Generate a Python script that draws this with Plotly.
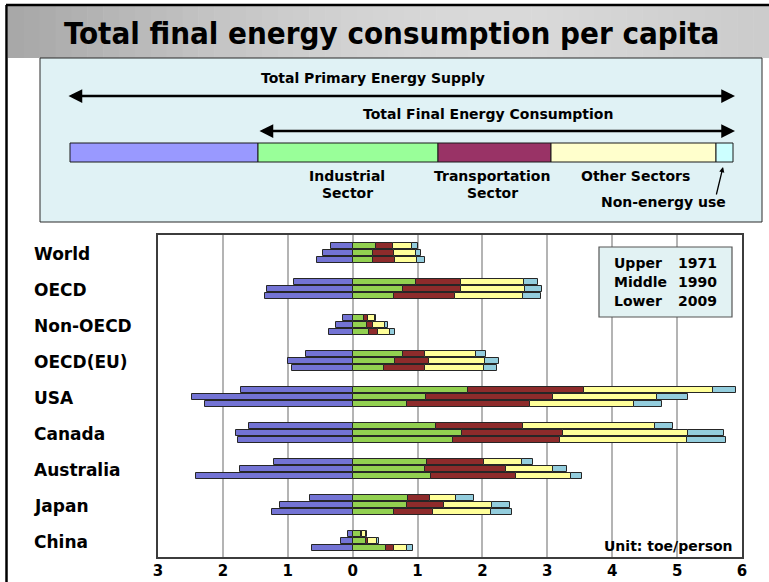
import plotly.graph_objects as go
import math

# ---------------- data (toe/person) ----------------
countries = ["World", "OECD", "Non-OECD", "OECD(EU)", "USA", "Canada", "Australia", "Japan", "China"]
years = ["1971", "1990", "2009"]

# losses (TPES - TFC), drawn to the left of zero
loss_1971 = [0.33, 0.90, 0.15, 0.72, 1.72, 1.60, 1.21, 0.65, 0.07]
loss_1990 = [0.46, 1.32, 0.25, 0.99, 2.48, 1.80, 1.73, 1.12, 0.18]
loss_2009 = [0.55, 1.35, 0.37, 0.94, 2.28, 1.77, 2.42, 1.24, 0.62]

industry_1971 = [0.36, 0.98, 0.17, 0.77, 1.77, 1.28, 1.14, 0.86, 0.13]
industry_1990 = [0.32, 0.77, 0.22, 0.65, 1.13, 1.69, 1.12, 0.83, 0.20]
industry_2009 = [0.31, 0.63, 0.25, 0.49, 0.84, 1.54, 1.21, 0.63, 0.51]

transport_1971 = [0.26, 0.69, 0.07, 0.34, 1.80, 1.34, 0.88, 0.33, 0.02]
transport_1990 = [0.31, 0.90, 0.10, 0.53, 1.96, 1.55, 1.24, 0.58, 0.04]
transport_2009 = [0.35, 0.95, 0.14, 0.62, 1.89, 1.65, 1.30, 0.61, 0.12]

other_1971 = [0.30, 0.97, 0.10, 0.79, 1.98, 2.04, 0.59, 0.40, 0.06]
other_1990 = [0.34, 0.98, 0.18, 0.86, 1.60, 1.93, 0.72, 0.73, 0.13]
other_2009 = [0.33, 1.05, 0.18, 0.92, 1.61, 1.96, 0.85, 0.89, 0.20]

nonenergy_1971 = [0.08, 0.21, 0.02, 0.15, 0.36, 0.27, 0.17, 0.28, 0.01]
nonenergy_1990 = [0.09, 0.27, 0.05, 0.21, 0.48, 0.55, 0.23, 0.28, 0.03]
nonenergy_2009 = [0.12, 0.28, 0.08, 0.20, 0.42, 0.61, 0.17, 0.32, 0.10]

tick_vals = [-3, -2, -1, 0, 1, 2, 3, 4, 5, 6]
tick_text = ["3", "2", "1", "0", "1", "2", "3", "4", "5", "6"]

# ---------------- geometry helpers ----------------
L, R, T, B = 158, 742, 235, 557
W, H = R - L, B - T
def px(x):
    return (x - L) / W
def py(y):
    return (B - y) / H

year_offset = {"1971": 0.2, "1990": 0.0, "2009": -0.2}

def build(lists):
    ys, xs = [], []
    for yr, vals in zip(years, lists):
        for i, v in enumerate(vals):
            ys.append(-i + year_offset[yr])
            xs.append(v)
    return ys, xs

series = [
    ("Loss", [[-v for v in loss_1971], [-v for v in loss_1990], [-v for v in loss_2009]], "#7373d4"),
    ("Industrial Sector", [industry_1971, industry_1990, industry_2009], "#92d050"),
    ("Transportation Sector", [transport_1971, transport_1990, transport_2009], "#8e2b2b"),
    ("Other Sectors", [other_1971, other_1990, other_2009], "#ffff99"),
    ("Non-energy use", [nonenergy_1971, nonenergy_1990, nonenergy_2009], "#93cddd"),
]

fig = go.Figure()
for name, lists, color in series:
    ys, xs = build(lists)
    fig.add_trace(go.Bar(
        x=xs, y=ys, orientation="h", name=name, width=0.165,
        marker=dict(color=color, line=dict(color="#262626", width=1)),
        showlegend=False,
    ))

FONT = "DejaVu Sans, Verdana, sans-serif"
TITLE_FONT = "DejaVu Sans Condensed, Liberation Sans Narrow, DejaVu Sans, sans-serif"

fig.update_layout(
    width=769, height=582,
    margin=dict(l=L, r=769 - R, t=T, b=582 - B, autoexpand=False),
    paper_bgcolor="white", plot_bgcolor="white",
    barmode="relative", bargap=0,
    font=dict(family=FONT, color="black"),
    xaxis=dict(range=[-3, 6], tickvals=tick_vals, ticktext=tick_text,
               showgrid=True, gridcolor="#b4b4b4", gridwidth=1.5,
               zeroline=False, showline=True, mirror=True, linecolor="#3c3c3c", linewidth=1.5,
               ticks="", ticklabelstandoff=-1,
               tickfont=dict(family=FONT, size=15, color="black", weight="bold")),
    yaxis=dict(range=[-8.44, 0.5], showticklabels=False, showgrid=False, zeroline=False,
               showline=True, mirror=True, linecolor="#3c3c3c", linewidth=1.5, fixedrange=True),
)

shapes = []
annotations = []

# header gradient band
n = 48
x0 = 8
for k in range(n):
    xa = x0 + (769 - x0) * k / n
    xb = x0 + (769 - x0) * (k + 1) / n + 0.6
    t = k / (n - 1)
    g = int(168 + 50 * math.sin(min(t / 0.7, 1.0) * math.pi / 2) - 14 * max(0, t - 0.7) / 0.3)
    col = f"rgb({g},{g},{g})"
    shapes.append(dict(type="rect", xref="paper", yref="paper", x0=px(xa), x1=px(xb),
                       y0=py(58), y1=py(6), fillcolor=col, line=dict(width=0), layer="below"))
# outer black border lines
shapes.append(dict(type="line", xref="paper", yref="paper", x0=px(6), x1=px(769), y0=py(5), y1=py(5),
                   line=dict(color="black", width=2.5)))
shapes.append(dict(type="line", xref="paper", yref="paper", x0=px(6.5), x1=px(6.5), y0=py(5), y1=py(582),
                   line=dict(color="black", width=2.5)))

# title
annotations.append(dict(xref="paper", yref="paper", x=px(391), y=py(33), text="<b>Total final energy consumption per capita</b>",
                        showarrow=False, xanchor="center", yanchor="middle",
                        font=dict(family=TITLE_FONT, size=31, color="black")))

# schematic box
shapes.append(dict(type="rect", xref="paper", yref="paper", x0=px(40), x1=px(762), y0=py(222), y1=py(58),
                   fillcolor="#e0f2f5", line=dict(color="#2a2a2a", width=1)))

# schematic bar
seg = [(70, 258, "#9999ff"), (258, 438, "#99ff99"), (438, 551, "#993366"), (551, 716, "#ffffcc"), (716, 733, "#ccffff")]
for a, b, c in seg:
    shapes.append(dict(type="rect", xref="paper", yref="paper", x0=px(a), x1=px(b), y0=py(162), y1=py(143),
                       fillcolor=c, line=dict(color="#1a1a1a", width=1)))

def dbl_arrow(xa, xb, y):
    annotations.append(dict(xref="paper", yref="paper", x=px(xb), y=py(y), ax=-(xb - xa), ay=0,
                            text="", showarrow=True, arrowside="end+start", arrowhead=2,
                            arrowsize=1.1, arrowwidth=2.5, arrowcolor="black"))

dbl_arrow(67, 735, 96)
dbl_arrow(258, 735, 131)

def label(x, y, txt, size=14, anchor="center"):
    annotations.append(dict(xref="paper", yref="paper", x=px(x), y=py(y), text=f"<b>{txt}</b>",
                            showarrow=False, xanchor=anchor, yanchor="middle",
                            font=dict(family=FONT, size=size, color="black")))

label(373, 78, "Total Primary Energy Supply")
label(488, 114, "Total Final Energy Consumption")
label(347, 176, "Industrial")
label(347, 193, "Sector")
label(492, 176, "Transportation")
label(492, 193, "Sector")
label(635, 176, "Other Sectors")
label(663, 202, "Non-energy use")
annotations.append(dict(xref="paper", yref="paper", x=px(723), y=py(167), ax=-7, ay=29,
                        text="", showarrow=True, arrowhead=2, arrowsize=0.8, arrowwidth=1.3,
                        arrowcolor="black"))

# country labels
for i, c in enumerate(countries):
    annotations.append(dict(xref="paper", yref="paper", x=px(32), y=py(254 + 36 * i), text=f"<b>{c}</b>",
                            showarrow=False, xanchor="left", yanchor="middle",
                            font=dict(family=FONT, size=17, color="black")))

# year key box
shapes.append(dict(type="rect", xref="paper", yref="paper", x0=px(599), x1=px(732), y0=py(317), y1=py(247),
                   fillcolor="#e2f2f3", line=dict(color="#555555", width=1.2)))
for j, (pos, yr) in enumerate(zip(["Upper", "Middle", "Lower"], years)):
    label(612, 263 + 19 * j, pos, size=14, anchor="left")
    label(676, 263 + 19 * j, yr, size=14, anchor="left")

label(735, 546, "Unit: toe/person", size=14, anchor="right")

fig.update_layout(shapes=shapes, annotations=annotations)
fig.write_html("out.html", config={"displayModeBar": False},
               post_script="document.body.style.margin='0';document.body.style.padding='0';")
